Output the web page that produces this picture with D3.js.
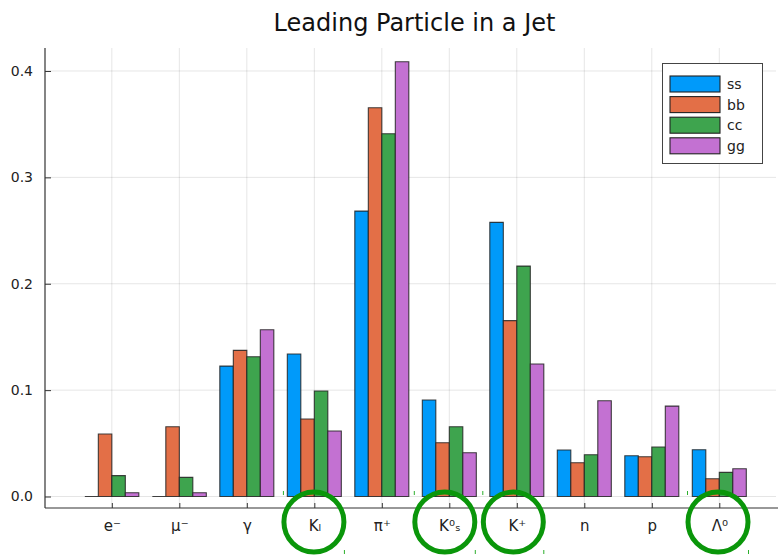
<!DOCTYPE html>
<html>
<head>
<meta charset="utf-8">
<script src="https://cdn.jsdelivr.net/npm/d3@7"></script>
<style>
  html, body { margin: 0; padding: 0; background: #fff; }
  svg { display: block; font-family: "DejaVu Sans", sans-serif; }
</style>
</head>
<body>
<svg id="chart" width="778" height="555"></svg>
<script>
// Leading particle species, one group of bars per particle
const particles = ["e\u207B", "\u03BC\u207B", "\u03B3", "K\u2097", "\u03C0\u207A", "K\u2070\u209B", "K\u207A", "n", "p", "\u039B\u2070"];
const seriesNames = ["ss", "bb", "cc", "gg"];
const seriesColors = ["#009AFA", "#E36F47", "#3EA44E", "#C371D2"];

const ssValues = [0.0, 0.0, 0.1226, 0.1339, 0.2683, 0.0907, 0.2577, 0.0437, 0.0383, 0.0440];
const bbValues = [0.0587, 0.0656, 0.1374, 0.0728, 0.3654, 0.0506, 0.1653, 0.0318, 0.0374, 0.0167];
const ccValues = [0.0196, 0.0180, 0.1314, 0.0992, 0.3410, 0.0656, 0.2166, 0.0393, 0.0465, 0.0227];
const ggValues = [0.0036, 0.0036, 0.1568, 0.0616, 0.4087, 0.0412, 0.1245, 0.0900, 0.0850, 0.0261];

const yTicks = [0.0, 0.1, 0.2, 0.3, 0.4];
const yTickLabels = ["0.0", "0.1", "0.2", "0.3", "0.4"];

// particles highlighted with a ring below the axis, with a small horizontal nudge
const highlighted = ["K\u2097", "K\u2070\u209B", "K\u207A", "\u039B\u2070"];
const highlightNudge = [-0.4, -4.5, -3.5, -1.3];

const series = [ssValues, bbValues, ccValues, ggValues];

const svg = d3.select("#chart");
const plotLeft = 45, plotRight = 776, plotTop = 48, plotBottom = 508;

const x = d3.scaleLinear().domain([-0.99, 9.84]).range([plotLeft, plotRight]);
const y = d3.scaleLinear().domain([-0.0108, 0.4216]).range([plotBottom, plotTop]);

// grid
const grid = svg.append("g");
grid.selectAll("line.gy").data(yTicks).join("line")
  .attr("x1", plotLeft).attr("x2", plotRight)
  .attr("y1", d => y(d)).attr("y2", d => y(d))
  .attr("stroke", "#000").attr("stroke-opacity", 0.1).attr("stroke-width", 1);
grid.selectAll("line.gx").data(particles.map((p, i) => i)).join("line")
  .attr("x1", d => x(d)).attr("x2", d => x(d))
  .attr("y1", plotTop).attr("y2", plotBottom)
  .attr("stroke", "#000").attr("stroke-opacity", 0.1).attr("stroke-width", 1);

// bars
const groupWidth = 0.8;
const groupPx = x(groupWidth) - x(0);
const barW = groupPx / series.length;
const bars = svg.append("g");
series.forEach((vals, s) => {
  bars.selectAll(null).data(vals).join("path")
    .attr("d", (v, i) => {
      const x0 = x(i) - groupPx / 2 + s * barW;
      const x1 = x0 + barW;
      const y0 = y(0), y1 = y(v);
      return `M${x0},${y0}H${x1}V${y1}H${x0}Z`;
    })
    .attr("fill", seriesColors[s])
    .attr("stroke", "#222")
    .attr("stroke-opacity", 0.85)
    .attr("stroke-width", 1.1);
});

// axes
const axisColor = "#333";
const yAxis = d3.axisLeft(y).tickValues(yTicks).tickFormat((d, i) => yTickLabels[i]).tickSize(-6).tickPadding(12);
const yg = svg.append("g").attr("transform", `translate(${plotLeft},0)`).call(yAxis);
yg.select(".domain").attr("d", `M0,${plotTop}V${plotBottom}`).attr("stroke", axisColor).attr("stroke-width", 1.2);
yg.selectAll(".tick line").attr("stroke", axisColor);
yg.selectAll(".tick text").attr("font-size", 14).attr("fill", "#222").attr("font-family", "DejaVu Sans");

const xAxis = d3.axisBottom(x).tickValues(particles.map((p, i) => i)).tickFormat((d) => particles[d]).tickSize(-5).tickPadding(12);
const xg = svg.append("g").attr("transform", `translate(0,${plotBottom})`).call(xAxis);
xg.select(".domain").attr("d", `M${plotLeft},0H${778}`).attr("stroke", axisColor).attr("stroke-width", 1.2);
xg.selectAll(".tick line").attr("stroke", axisColor);
xg.selectAll(".tick text").attr("font-size", 15).attr("fill", "#222").attr("font-family", "DejaVu Sans");

// title
svg.append("text")
  .attr("x", (plotLeft + plotRight) / 2 + 4).attr("y", 31)
  .attr("text-anchor", "middle")
  .attr("font-size", 24).attr("fill", "#111")
  .text("Leading Particle in a Jet");

// legend
const lg = svg.append("g").attr("transform", "translate(662,63)");
lg.append("rect").attr("x", 0.5).attr("y", 0.5).attr("width", 100).attr("height", 100)
  .attr("fill", "#fff").attr("stroke", "#444").attr("stroke-width", 1);
seriesNames.forEach((name, i) => {
  const cy = 21 + i * 20.6;
  lg.append("rect").attr("x", 8).attr("y", cy - 8).attr("width", 50).attr("height", 16)
    .attr("fill", seriesColors[i]).attr("stroke", "#222").attr("stroke-width", 1.1);
  lg.append("text").attr("x", 65).attr("y", cy + 5)
    .attr("font-size", 14).attr("fill", "#222").text(name);
});

// highlight rings around selected labels
const ringY = 522, ringR = 30;
const rings = svg.append("g");
highlighted.forEach((p, k) => {
  const cx = x(particles.indexOf(p)) + highlightNudge[k];
  rings.append("circle").attr("cx", cx).attr("cy", ringY).attr("r", ringR)
    .attr("fill", "none").attr("stroke", "#0A960A").attr("stroke-width", 5);
  rings.append("line").attr("x1", cx - ringR - 0.5).attr("x2", cx - ringR - 0.5)
    .attr("y1", ringY - 31).attr("y2", ringY - 27)
    .attr("stroke", "#2DB02D").attr("stroke-width", 1);
  rings.append("line").attr("x1", cx + ringR + 0.5).attr("x2", cx + ringR + 0.5)
    .attr("y1", ringY + 28).attr("y2", ringY + 32)
    .attr("stroke", "#2DB02D").attr("stroke-width", 1);
});
</script>
</body>
</html>
